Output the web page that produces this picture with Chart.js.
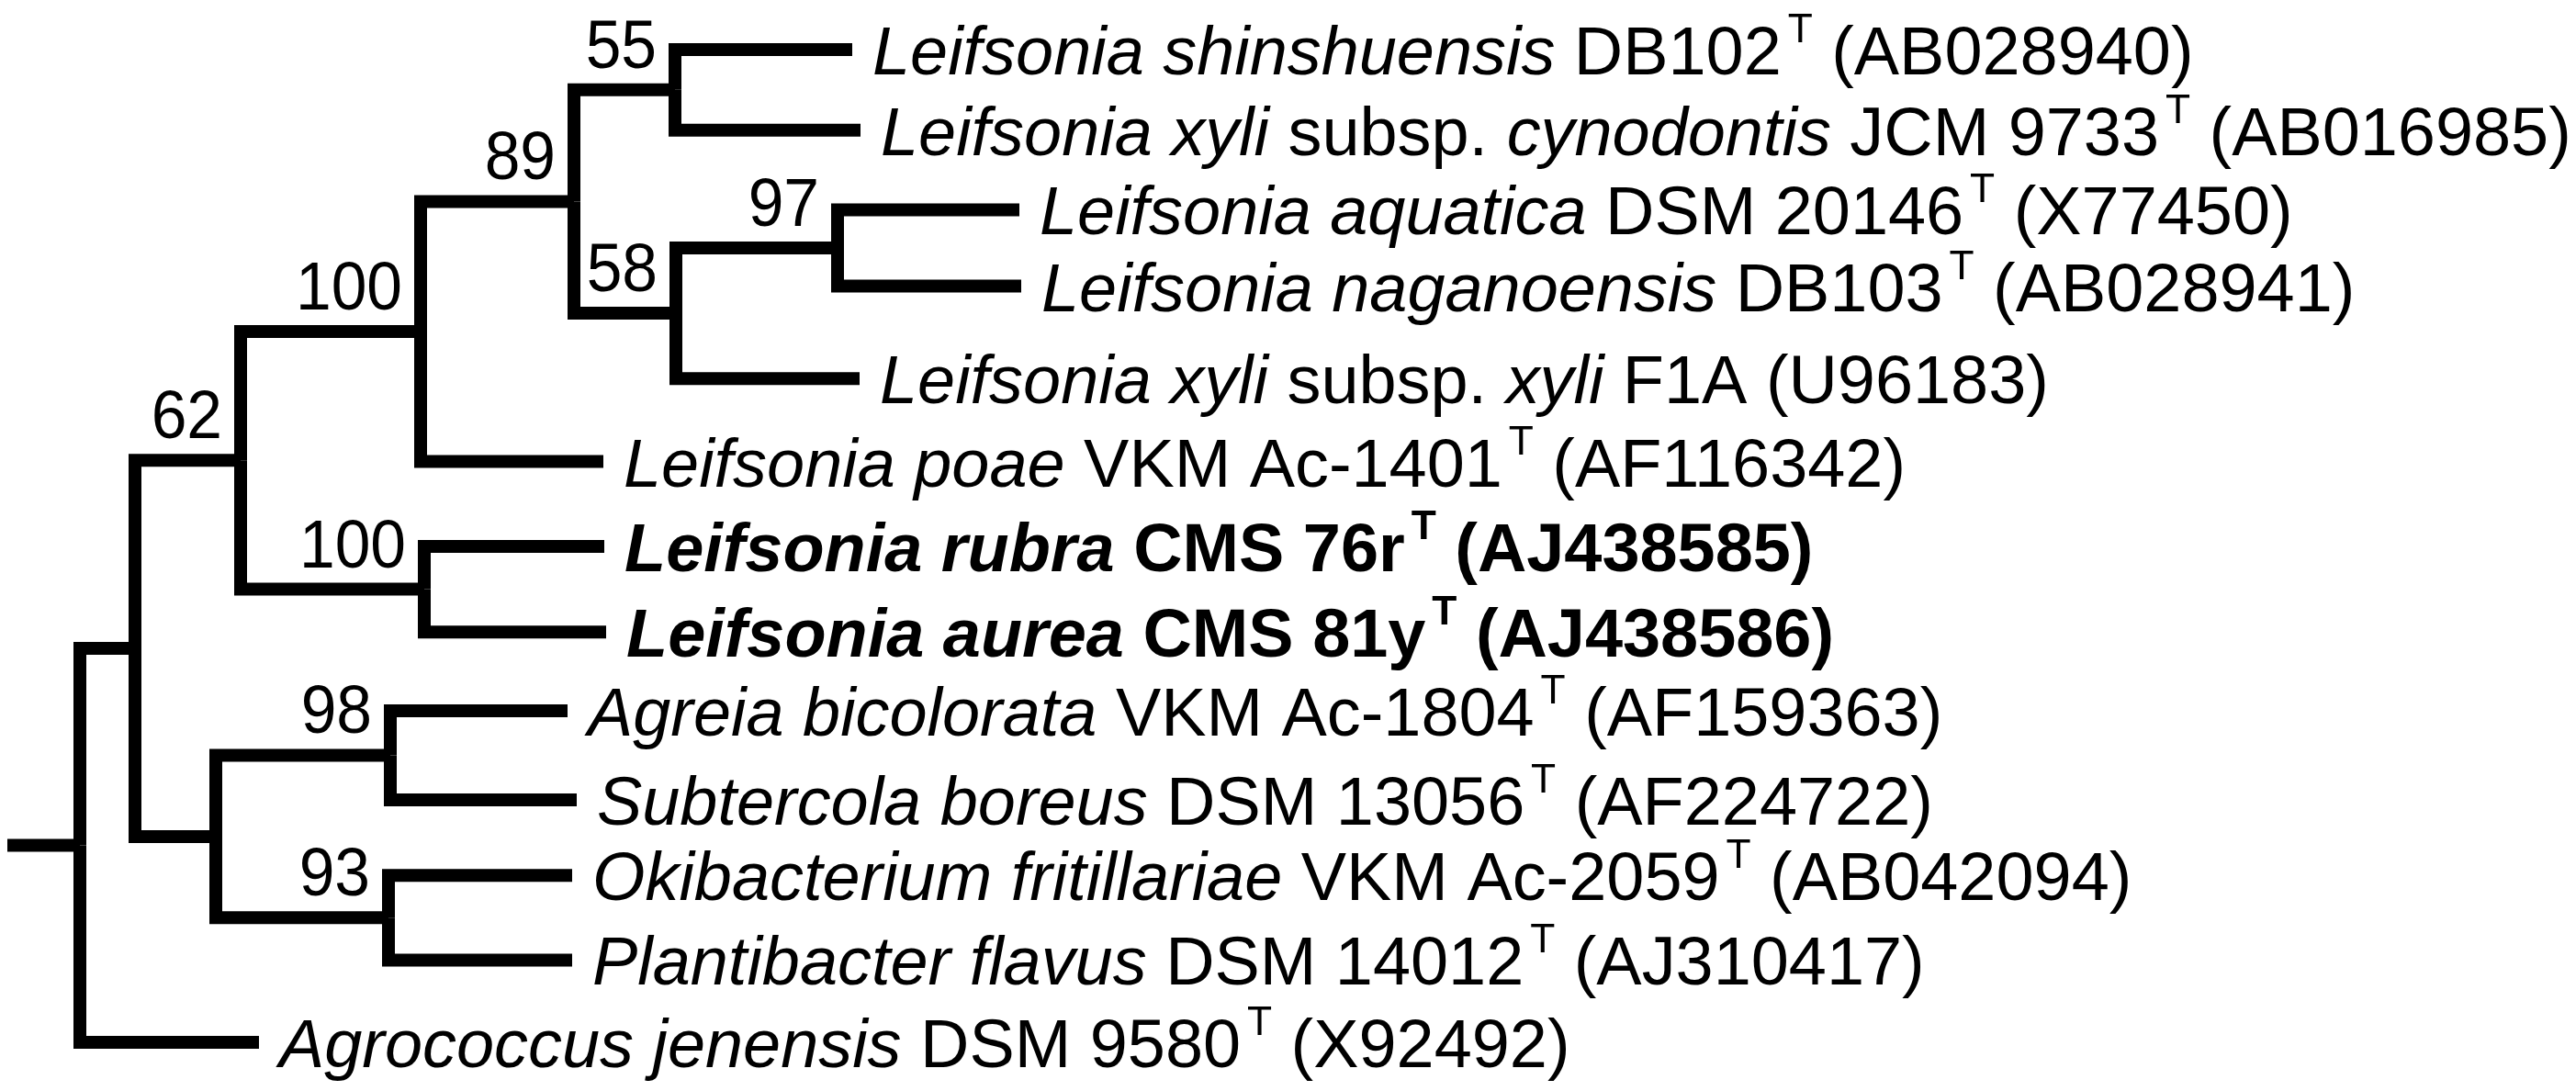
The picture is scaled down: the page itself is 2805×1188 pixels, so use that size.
<!DOCTYPE html>
<html>
<head>
<meta charset="utf-8">
<script src="https://cdn.jsdelivr.net/npm/chart.js@4.4.1/dist/chart.umd.min.js"></script>
<style>
  html, body { margin: 0; padding: 0; background: #fff; }
  canvas { display: block; }
</style>
</head>
<body>
<canvas id="tree" width="2805" height="1188"></canvas>
<script>
// Tip labels (*...* = italic, ^T = superscript type-strain mark)
const tipLabels = [
  '*Leifsonia shinshuensis* DB102^T (AB028940)',
  '*Leifsonia xyli* subsp. *cynodontis* JCM 9733^T (AB016985)',
  '*Leifsonia aquatica* DSM 20146^T (X77450)',
  '*Leifsonia naganoensis* DB103^T (AB028941)',
  '*Leifsonia xyli* subsp. *xyli* F1A (U96183)',
  '*Leifsonia poae* VKM Ac-1401^T (AF116342)',
  '*Leifsonia rubra* CMS 76r^T (AJ438585)',
  '*Leifsonia aurea* CMS 81y^T (AJ438586)',
  '*Agreia bicolorata* VKM Ac-1804^T (AF159363)',
  '*Subtercola boreus* DSM 13056^T (AF224722)',
  '*Okibacterium fritillariae* VKM Ac-2059^T (AB042094)',
  '*Plantibacter flavus* DSM 14012^T (AJ310417)',
  '*Agrococcus jenensis* DSM 9580^T (X92492)'
];
const tipBold = [false, false, false, false, false, false, true, true, false, false, false, false, false];
// distance from root (tree units) and row position of each tip
const tipDepth = [8.41, 8.50, 10.23, 10.25, 8.49, 5.70, 5.71, 5.73, 5.31, 5.41, 5.36, 5.36, 1.95];
const tipRow = [0.59, 1.55, 2.50, 3.41, 4.51, 5.50, 6.51, 7.53, 8.47, 9.53, 10.43, 11.44, 12.42];

// internal nodes, children listed before parents
const nodeDepth = [6.48, 8.25, 6.49, 5.38, 3.71, 3.75, 1.75, 3.38, 3.36, 1.48, 0.60, 0];
const nodeChildren = [
  ['t0', 't1'], ['t2', 't3'], ['n1', 't4'], ['n0', 'n2'], ['n3', 't5'],
  ['t6', 't7'], ['n4', 'n5'], ['t8', 't9'], ['t10', 't11'], ['n7', 'n8'],
  ['n6', 'n9'], ['n10', 't12']
];
const nodeSupport = [55, 97, 58, 89, 100, 100, 62, 98, 93, null, null, null];
const rootStubDepth = -0.79;

const FONT = "'Liberation Sans', Arial, sans-serif";

// rows of internal nodes = midpoint of their children
const nodeRow = [];
function getDepth(id) {
  const i = parseInt(id.slice(1));
  return id[0] === 't' ? tipDepth[i] : nodeDepth[i];
}
function getRow(id) {
  const i = parseInt(id.slice(1));
  return id[0] === 't' ? tipRow[i] : nodeRow[i];
}
nodeChildren.forEach((kids, i) => {
  nodeRow[i] = (getRow(kids[0]) + getRow(kids[1])) / 2;
});

// one dataset per branch (elbow)
const datasets = [];
nodeChildren.forEach((kids, i) => {
  kids.forEach(k => {
    datasets.push({
      data: [
        { x: nodeDepth[i], y: nodeRow[i] },
        { x: nodeDepth[i], y: getRow(k) },
        { x: getDepth(k), y: getRow(k) }
      ]
    });
  });
});
const rootIdx = nodeChildren.length - 1;
datasets.push({
  data: [
    { x: rootStubDepth, y: nodeRow[rootIdx] },
    { x: nodeDepth[rootIdx], y: nodeRow[rootIdx] }
  ]
});
datasets.forEach(d => Object.assign(d, {
  showLine: true,
  borderColor: '#000',
  borderWidth: 14,
  borderJoinStyle: 'miter',
  borderCapStyle: 'butt',
  pointRadius: 0,
  tension: 0,
  clip: false
}));

// split a label into styled pieces
function parseLabel(str) {
  const parts = [];
  const re = /(\*[^*]+\*|\^T)/g;
  let last = 0, m;
  while ((m = re.exec(str)) !== null) {
    if (m.index > last) parts.push({ t: str.slice(last, m.index), s: 'r' });
    if (m[0] === '^T') parts.push({ t: 'T', s: 'sup' });
    else parts.push({ t: m[0].slice(1, -1), s: 'i' });
    last = re.lastIndex;
  }
  if (last < str.length) parts.push({ t: str.slice(last), s: 'r' });
  return parts;
}

const treeText = {
  id: 'treeText',
  afterDatasetsDraw(chart) {
    const ctx = chart.ctx;
    const xs = chart.scales.x, ys = chart.scales.y;
    ctx.save();
    ctx.fillStyle = '#000';
    ctx.textBaseline = 'alphabetic';
    ctx.textAlign = 'left';

    // tip labels, drawn slightly condensed like the original typeface
    tipLabels.forEach((lab, i) => {
      const x0 = xs.getPixelForValue(tipDepth[i]) + 22;
      const base = ys.getPixelForValue(tipRow[i]) + 27;
      const bold = tipBold[i] ? 'bold ' : '';
      ctx.save();
      ctx.translate(x0, base);
      ctx.scale(0.985, 1);
      let x = 0;
      parseLabel(lab).forEach(p => {
        if (p.s === 'sup') {
          ctx.font = bold + '45px ' + FONT;
          x += 7;
          ctx.fillText(p.t, x, -35);
        } else {
          ctx.font = (p.s === 'i' ? 'italic ' : '') + bold + '75px ' + FONT;
          ctx.fillText(p.t, x, 0);
        }
        x += ctx.measureText(p.t).width;
      });
      ctx.restore();
    });

    // bootstrap values
    ctx.font = '74px ' + FONT;
    ctx.textAlign = 'right';
    nodeSupport.forEach((v, i) => {
      if (v == null) return;
      const px = xs.getPixelForValue(nodeDepth[i]) - 20;
      const py = ys.getPixelForValue(nodeRow[i]) - 24;
      ctx.save();
      ctx.translate(px, py);
      ctx.scale(0.94, 1);
      ctx.fillText(String(v), 0, 0);
      ctx.restore();
    });
    ctx.restore();
  }
};

new Chart(document.getElementById('tree'), {
  type: 'scatter',
  data: { datasets },
  options: {
    responsive: false,
    animation: false,
    devicePixelRatio: 1,
    layout: { padding: 0 },
    plugins: { legend: { display: false }, tooltip: { enabled: false } },
    scales: {
      x: { type: 'linear', display: false, min: -0.87, max: 27.18 },
      y: { type: 'linear', display: false, reverse: true, min: 0, max: 13 }
    }
  },
  plugins: [treeText]
});
</script>
</body>
</html>
